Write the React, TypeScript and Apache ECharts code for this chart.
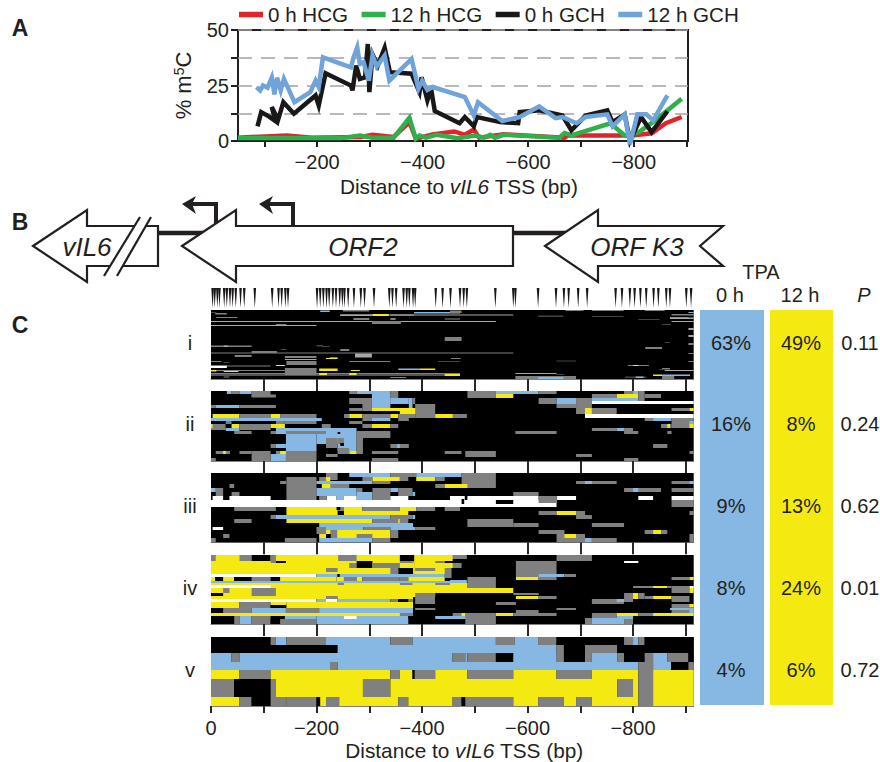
import React, { useEffect, useRef } from "react";
import * as echarts from "echarts";

const FONT = "Liberation Sans";
const INK = "#231f20";

const legendNames = ["0 h HCG", "12 h HCG", "0 h GCH", "12 h GCH"];
const legendColors = ["#e2232a", "#2fb04a", "#1a1718", "#6fa3d9"];

const hcg0 = [[-50,1.5],[-143,2.5],[-190,1.5],[-284,1.8],[-305,2.8],[-345,1.8],[-375,8.5],[-387,1],[-419,3],[-460,4.3],[-480,2.8],[-497,5.2],[-507,1.5],[-554,3],[-669,1.5],[-675,2.5],[-696,2.5],[-797,2.5],[-834,3.5],[-861,8],[-891,10.8]];
const hcg12 = [[-50,1.3],[-244,1.3],[-281,2.5],[-305,1.5],[-345,1.5],[-375,10.5],[-387,1],[-394,2.5],[-406,1.5],[-426,2.8],[-466,1.3],[-500,2.5],[-517,1.5],[-528,2.8],[-537,1.5],[-554,2.8],[-659,1.5],[-669,3.6],[-682,2.5],[-756,8],[-783,2.5],[-810,4],[-841,9.3],[-891,19]];
const gch0 = [[-87,6.6],[-94,13],[-109,11],[-121,9],[-114,15.3],[-126,9.6],[-136,17.5],[-156,12.3],[-197,20.5],[-203,16],[-216,30.5],[-264,25],[-267,22.8],[-274,34],[-281,28],[-291,28.7],[-296,43.7],[-299,22],[-305,39],[-315,34],[-328,42],[-338,31],[-379,30.3],[-394,22],[-398,28.7],[-409,18.3],[-416,23.5],[-423,13.5],[-470,8],[-480,10.8],[-497,6.6],[-503,10.8],[-547,8.5],[-581,8],[-584,13],[-621,13.8],[-665,11.5],[-682,4.8],[-709,11.5],[-750,13.8],[-760,8.5],[-783,12],[-793,0],[-814,10.8],[-834,4],[-864,13.4]];
const gch12 = [[-85,24.3],[-92,22.8],[-97.5,25],[-106,24],[-114,28.5],[-119,21],[-124,28.5],[-131,22.8],[-137,28],[-157,17.5],[-187,22],[-197,27.2],[-203,24.3],[-211,37.7],[-264,33.2],[-269,37.7],[-276,42.2],[-281,34.7],[-288,35.5],[-298,27.2],[-305,38.5],[-313,33.5],[-328,38.5],[-337,27.2],[-379,37],[-392,23.5],[-399,27.2],[-409,23],[-419,24.3],[-480,19.8],[-497,11.5],[-505,17.5],[-551,9],[-584,10.8],[-621,15.6],[-652,10.3],[-665,10.8],[-692,8],[-709,10.8],[-750,12],[-760,6.6],[-783,12],[-793,-1.5],[-807,12],[-824,12],[-837,9.3],[-864,20.5]];

// colour codes for the methylation cells
const g = 0, b = 1, y = 2, w = 3, k = 4, l = 5, d = 6;
const cellColors = ["#808080", "#86b8e3", "#f4ea12", "#ffffff", "#000000", "#a8a8a8", "#444444"];

// [from bp, to bp, first row, last row, colour code]
const panelI = [
  [0,540,11,12,l],[245,573,4.5,5.5,l],[0,200,15,16,l],[0,573,42.5,43.5,g],[0,472,63,64,g],[0,472,64.5,65.5,l],
  [0,10,2,3,d],[8,30,3,4.5,g],[10,50,7,8,g],[207,225,0.5,2,b],[250,300,0,1.5,g],[245,305,4.5,6,l],[306,337,4,6,y],[340,385,4,6,g],[385,472,2,3.5,b],[453,475,0.5,3,g],
  [270,300,8,10,g],[340,350,8,10,g],[305,360,11,14,g],[443,472,8,10,d],[123,143,14,15,g],[443,475,27,31,g],
  [0,77,35.5,37,g],[24,32,35.5,37,l],[200,212,35,36.5,d],[210,225,36,37,d],[132,143,39,40,d],[245,262,39,41,g],[77,125,41,43,g],
  [273,305,43.5,47.5,l],[45,77,45,47,g],[140,200,46,48,g],[140,200,49,50,l],[218,240,48,49,y],[225,240,47,48,g],
  [0,20,51,52,g],[24,35,52,53,d],[143,200,51,55,g],[262,340,51,52,g],[430,472,51,52,d],[455,473,48,49,g],
  [30,113,55.5,56.5,g],[123,140,55,56,y],[0,30,55.5,58,w],[0,140,60,61,g],[24,52,61,62,y],[0,10,60,61.5,y],[140,200,58,65,g],
  [205,240,58.5,61,y],[265,282,60,61,y],[355,395,58.5,60,b],[395,425,58.5,60,y],[205,220,63,65,y],[262,276,63,65,y],
  [24,35,66,68,d],[340,370,67,68,g],[443,472,64,66,y],
  [620,668,5.5,7,d],[672,706,0,1,g],[722,782,0,1,g],[722,782,6,7,d],[822,860,0,1,g],[810,850,9,10,d],[855,872,14,15,d],
  [873,915,4,5.5,g],[870,905,7,8,g],[870,915,7.5,9,l],[873,915,11,12,l],[905,915,18,20,l],[905,915,25,27,l],[905,915,33,35,g],[905,915,43,44,g],[860,870,32,33,d],[905,915,51,52,g],
  [823,855,37,39,g],[655,692,50.5,51.5,d],[790,830,55,56,g],[800,810,55,56,y],[850,870,59,60,d],[855,870,58,59,g],
  [577,655,63,64,l],[655,670,64,65,d],[577,692,66,69,g],[620,668,67,69,b],[785,825,66.5,68,d],[805,820,66.5,68,b],
  [838,855,64.5,66,y],[855,908,64.5,66,b],[860,915,60,61,l],[855,878,66,69,g],[905,915,2,3,b],
];

const panelII = [
  [30,39,0,3,b],[39,54,0,3,g],[54,77,0,3,b],[77,113,0,6,g],[77,123,3.5,6.5,g],[0,9,14,17,g],[9,54,14,17,b],[54,123,14,17,g],
  [3,54,23,27,y],[54,113,23,27,g],[113,131,23,27,y],[131,200,23,27,g],[0,210,27,30,b],[140,200,30,33,g],[123,140,30,33,g],
  [0,28,33,39,g],[28,36,33,37,k],[28,39,30,33,g],[0,3,33,37,y],[39,54,33,37,y],[54,113,33,39,g],[113,140,33,37,y],[28,54,37,40,b],[44,77,40,43,g],[113,123,40,43,g],
  [123,276,37,43,b],[210,227,33,37,g],[142,218,40,43,g],[142,200,43,60,b],[200,276,43,53,b],[240,276,53,60,b],
  [218,240,47,57,g],[240,252,47,53,g],[240,245,41,43,k],[245,252,52,55,k],[276,288,40,63,g],[276,340,40,47,g],[123,142,53,57,b],[113,123,53,57,g],
  [142,200,60,70,g],[123,142,60,66,g],[131,142,60,63,y],[113,142,63,70,b],[77,113,60,70,g],[54,77,60,63,g],[9,36,60,63,g],[23,28,60,63,y],[0,9,67,70,g],[218,240,63,66,g],
  [262,276,60,63,y],[240,262,57,63,g],
  [262,276,0,3,g],[276,340,0,3,b],[340,355,0,13,g],[262,305,7,13,g],[305,340,3,17,b],[287,305,13,20,g],[262,287,17,20,g],[340,375,7,13,b],[375,382,7,17,b],[382,387,7,13,g],
  [305,389,17,20,y],[358,389,20,23,y],[387,425,13,27,g],[425,458,23,27,y],[458,485,23,27,g],[453,458,23,27,y],[252,262,23,27,g],[262,287,23,27,y],[287,340,23,27,g],[340,355,23,27,y],[355,387,23,27,g],
  [305,340,27,30,b],[287,305,27,30,g],[355,375,27,30,g],[262,287,30,33,g],[305,340,33,37,y],[287,305,33,37,g],[340,355,33,37,g],
  [340,375,53,57,g],[353,358,53,57,b],[305,355,60,63,g],[305,355,67,70,g],[443,472,60,63,g],
  [486,540,0,7,g],[540,573,3,7,y],[540,621,0,3,b],[621,655,0,3,g],[621,655,7,13,g],[655,692,7,13,b],[655,692,13,17,g],[692,722,7,23,g],[709,722,17,23,y],[722,769,17,23,g],[722,769,3,7,g],
  [722,810,7,10,b],[769,810,3,7,y],[783,800,0,3,g],[800,810,0,3,b],[810,822,0,10,g],[822,853,3,7,g],[722,915,10,13,w],[873,907,17,20,g],[907,915,17,20,y],[709,915,23,27,w],
  [822,838,27,30,g],[838,873,27,30,b],[873,915,27,37,g],[907,915,30,33,b],[907,915,33,37,y],[853,873,33,37,g],[865,870,33,37,y],
  [722,769,37,40,g],[769,783,37,40,b],[783,800,37,40,g],[783,810,40,43,g],[865,873,40,43,g],[577,655,40,43,g],[838,865,53,57,g],
  [482,540,60,66,g],[453,475,60,63,g],[692,722,63,66,g],[783,810,67,70,g],[907,915,60,63,g],
];

const panelIII = [
  [218,240,0,7,g],[262,340,0,4,b],[340,389,0,4,g],[389,475,0,4,b],[475,540,0,15,g],[143,200,4,27,g],[131,143,8,11,g],[35,44,11,15,g],[9,23,15,23,g],[0,9,15,19,b],[39,54,19,23,g],
  [3,23,23,27,w],[35,113,23,27,w],[205,218,4,8,g],[218,226,4,8,y],[200,306,8,11,b],[287,306,4,8,g],[306,358,4,8,y],[358,374,4,8,g],[389,425,4,8,y],[425,443,4,8,g],[306,340,8,11,g],
  [210,227,11,15,y],[227,262,11,15,g],[425,443,11,15,g],[443,486,11,15,y],[200,276,15,23,b],[276,287,15,19,g],[276,306,19,27,b],[306,340,15,27,g],[340,355,15,19,b],[355,382,15,23,g],[382,387,19,23,b],
  [205,218,23,27,g],[219,238,23,27,w],[238,252,23,27,b],[252,276,23,27,w],[340,374,23,27,w],[459,476,23,27,w],[486,621,23,27,w],[453,481,23,27,w],[655,692,23,27,w],[810,838,23,27,w],[873,915,23,27,w],
  [0,655,27,34,w],[540,573,27,31,k],[475,480,26,31,k],[573,621,19,23,g],[621,655,23,30,g],[873,915,27,34,g],[873,915,15,19,g],[692,769,8,11,g],[709,722,8,11,b],[783,853,15,19,g],[800,810,15,19,b],[873,915,8,11,g],[907,915,8,11,b],
  [44,123,34,38,g],[143,240,34,42,y],[240,252,34,38,g],[252,287,34,38,y],[287,358,34,38,g],[358,389,34,38,y],[389,425,34,38,g],[443,472,34,38,g],[252,374,38,42,y],[238,245,34,37,k],
  [113,123,42,46,g],[123,340,42,46,b],[340,382,42,46,g],[382,387,42,46,b],[143,306,46,50,y],[44,77,46,50,g],[306,358,46,50,g],[355,358,46,50,y],[358,374,46,50,g],
  [205,383,50,54,b],[218,289,54,57,b],[289,340,54,57,g],[340,387,54,57,b],[387,425,54,57,g],[3,23,54,57,w],[200,218,54,57,g],
  [200,218,57,61,g],[218,227,57,61,y],[227,239,57,65,g],[239,340,57,65,y],[276,306,61,65,g],[205,218,61,65,y],[340,355,57,65,g],[23,35,61,65,g],
  [0,9,65,69.3,g],[140,200,65,69.3,g],[205,306,65,69.3,b],[306,340,65,69.3,g],
  [621,655,38,42,g],[655,692,38,42,y],[692,709,38,42,g],[692,722,42,46,g],[907,915,38,42,g],[486,573,46,54,g],[573,621,50,54,g],[722,783,50,54,g],
  [621,670,57,61,g],[655,709,61,69.3,g],[670,692,61,65,y],[709,722,65,69.3,b],[722,769,65,69.3,g],[822,838,57,61,g],[838,853,57,61,y],[853,865,57,61,g],[907,915,61,69.3,g],
];

const panelIV = [
  [0,385,0,19,y],[385,458,0,19,y],[0,9,0,6,g],[54,77,0,6,g],[77,113,0,6,k],[113,123,0,8,g],[123,142,6,8,k],[241,276,0,6,g],[358,385,0,6,k],[358,384,6,8,g],[456,485,0,4,g],[458,475,8,13,g],[453,458,13,22,g],
  [262,276,8,13,g],[276,306,6,13,k],[306,358,8,13,g],[340,355,13,19,g],[355,383,13,19,k],[425,443,6,8,g],[443,472,6,8,k],[387,425,13,16,g],[443,456,13,23,g],[456,472,13,22,k],[218,240,13,17,g],
  [0,200,19,22,w],[200,240,19,22,b],[240,244,19,22,k],[244,443,19,22,b],
  [0,8,22,26,y],[8,23,22,27,k],[23,44,22,26,y],[44,77,22,26,k],[77,113,22,27,g],[131,238,22,26,y],[238,252,22,26,y],[252,276,22,26,g],[276,287,22,26,y],[287,358,22,26,g],[358,374,22,26,g],[374,443,22,26,y],[0,472,26,28,b],
  [0,472,28,42,y],[0,113,30,33,w],[77,123,33,41,g],[23,35,33,38,g],[0,23,38,41,k],[240,252,28,30,g],[358,382,28,30,g],[425,456,28,30,g],
  [218,240,41,44,g],[0,200,44,47,w],[200,218,44,47,b],[218,240,44,47,w],[240,340,44,47,b],[340,355,44,47,g],[355,374,44,47,k],[374,383,44,47,g],[0,218,42,44,y],[240,383,42,44,y],
  [387,425,38,49,g],[425,472,38,53,k],[0,54,47,53,y],[54,113,47,53,g],[113,143,47,50,y],[113,143,50,53,k],[143,383,47,53,y],
  [0,23,53,58,k],[23,77,53,58,g],[77,142,53,58,b],[142,205,53,58,g],[205,383,53,58,b],[387,425,53,55,g],[0,383,58,61,y],[0,44,61,69,k],[44,54,61,69,g],[54,77,61,69,b],[77,113,61,69,g],[113,131,64,69,k],[131,200,64,69,g],[140,200,61,64,b],[200,374,61,69,b],[252,276,61,64,w],[374,383,61,64,k],[358,383,58,61,g],[425,472,61,64,b],
  [453,458,0,4,y],[453,458,8,13,y],[578,655,6,22,g],[621,670,19,22,b],[670,692,19,22,g],[655,722,0,6,g],[783,810,6,8,w],[453,485,25,28,b],[486,540,22,33,g],[578,621,22,25,y],[621,655,22,25,g],
  [453,486,28,33,y],[453,573,33,38,y],[573,621,38,40,g],[578,621,41,44,y],[621,655,41,44,g],[540,578,47,50,g],[655,692,53,55,g],[578,621,55,58,g],[540,573,58,61,y],[573,655,58,61,g],[458,485,58,61,g],[475,482,58,61,y],[453,485,61,64,b],[482,540,58,69,g],
  [709,722,63,69,g],[722,783,63,69,b],[783,800,63,69,g],[722,769,58,63,g],[769,810,58,61,y],[810,838,58,61,g],[838,915,58,61,y],[769,800,61,64,b],
  [800,838,31,33,g],[838,865,31,33,y],[865,873,31,33,g],[873,907,31,38,g],[907,915,33,38,y],[907,915,31,33,w],[873,907,22,25,g],[907,915,22,25,y],
  [783,800,38,47,g],[800,810,38,44,y],[810,822,38,44,g],[822,838,41,44,g],[838,873,41,44,y],[873,907,41,47,g],[722,783,44,49,g],[769,783,44,47,b],[873,915,49,58,g],[870,907,53,55,b],[907,915,49,52,y],[907,915,53,58,b],
];

const panelV = [
  [0,113,0,8,k],[113,123,0,8,g],[123,143,0,8,b],[143,218,0,8,g],[218,340,0,8,b],[340,382,0,8,g],[382,540,0,8,b],[540,576,0,8,g],[576,620,0,8,b],[620,655,0,8,g],[655,783,0,8,k],[783,800,0,8,g],[800,810,0,8,b],[810,822,0,8,g],[822,915,0,8,k],
  [0,240,8,16,k],[240,655,8,16,b],[655,669,8,25,g],[669,709,8,25,k],[709,770,8,16,g],[770,915,8,16,k],
  [0,39,16,25,b],[39,54,16,25,g],[54,458,16,25,b],[458,482,16,25,g],[482,486,16,25,b],[486,540,16,25,g],[540,573,16,25,k],[573,655,16,25,b],[709,722,16,25,g],[722,770,16,25,b],[770,783,16,25,g],[783,822,16,25,k],[822,838,16,25,g],[838,865,16,25,b],[865,905,16,25,g],[905,915,16,25,k],
  [0,227,25,33,b],[227,240,25,33,g],[240,810,25,33,b],[838,872,25,33,b],[872,905,25,33,k],[905,915,25,33,g],
  [0,54,33,42,y],[54,113,33,42,g],[113,340,33,42,y],[340,358,33,42,g],[358,382,33,42,y],[382,386,33,42,k],[386,425,33,42,g],[425,486,33,42,y],[486,573,33,42,g],[573,655,33,42,y],[655,722,33,42,g],[722,810,33,42,y],[838,915,33,42,y],
  [0,44,42,60,g],[44,113,42,60,k],[113,123,42,60,g],[123,288,42,60,y],[288,340,42,60,g],[340,770,42,60,y],[770,800,42,60,g],[800,810,42,60,y],[838,915,42,60,y],
  [0,54,60,69,y],[54,77,60,69,g],[77,113,60,69,k],[113,142,60,69,g],[142,143,60,69,y],[143,200,60,69,g],[200,207,60,69,k],[207,218,60,69,y],[218,243,60,69,g],[243,355,60,69,y],[355,374,60,69,g],[374,458,60,69,y],[458,475,60,69,g],[475,482,60,69,k],[482,573,60,69,g],[573,620,60,69,y],[620,669,60,69,g],[669,692,60,69,y],[692,722,60,69,g],[722,810,60,69,y],[838,915,60,69,y],
  [810,838,25,69,g],
];

const panels = [panelI, panelII, panelIII, panelIV, panelV];
const clusterNames = ["i", "ii", "iii", "iv", "v"];
const tpa0h = ["63%", "16%", "9%", "8%", "4%"];
const tpa12h = ["49%", "8%", "13%", "24%", "6%"];
const pValues = ["0.11", "0.24", "0.62", "0.01", "0.72"];

const sites = [3,7,12,16,25,30,36,41,47,56,63,83,116,128,134,141,146,201,207,213,219,224,231,237,244,249,253,260,271,284,291,309,338,344,351,365,371,376,383,387,426,439,454,472,479,485,539,573,577,620,654,669,678,696,713,767,779,794,803,814,825,839,848,863,870,901,910];

const panelTops = [310, 391, 473, 555, 637];
const panelHeights = [69, 70, 69.3, 69, 69];
const innerTicks = [100, 200, 300, 400, 500, 600, 700, 800, 900];
const outerTicks = [0, ...innerTicks];
const outerLabels = [0, 200, 400, 600, 800];
const plotTicks = [-100, -200, -300, -400, -500, -600, -700, -800, -900];
const plotLabels = [-200, -400, -600, -800];

const genes = [
  { name: "vIL6", cx: 87, points: [[33,246],[87,210],[87,226],[158,226],[158,266],[87,266],[87,282]] },
  { name: "ORF2", cx: 363, points: [[182,246],[236,210],[236,226],[513,226],[513,266],[236,266],[236,282]] },
  { name: "ORF K3", cx: 637, points: [[545,246],[598,210],[598,226],[723,226],[700,246],[723,266],[598,266],[598,282]] },
];

const minus = (v: number) => (v === 0 ? "0" : "\u2212" + Math.abs(v));
const distanceName = "{a|Distance to }{i|vIL6}{a| TSS (bp)}";
const distanceRich = {
  a: { fontSize: 20.8, color: INK, fontFamily: FONT },
  i: { fontSize: 20.8, color: INK, fontFamily: FONT, fontStyle: "italic" },
};

function cellItem(params: any, api: any) {
  const p0 = api.coord([api.value(0), api.value(2)]);
  const p1 = api.coord([api.value(1), api.value(3)]);
  return {
    type: "rect",
    shape: { x: p0[0], y: p0[1], width: p1[0] - p0[0], height: p1[1] - p0[1] },
    style: { fill: cellColors[api.value(4)] },
  };
}

function siteItem(params: any, api: any) {
  const a = api.coord([api.value(0), 0]);
  const c = api.coord([api.value(0), 1]);
  return {
    type: "polygon",
    shape: { points: [[a[0] - 1.3, a[1]], [a[0] + 1.3, a[1]], [c[0], c[1]]] },
    style: { fill: "#1a1718" },
  };
}

function txt(x: number, yy: number, text: string, size = 20, extra: any = {}) {
  return {
    type: "text", x, y: yy, silent: true, z: 20,
    style: { text, fontSize: size, fontFamily: FONT, fill: INK, align: "center", verticalAlign: "middle", ...extra },
  };
}

function buildOption() {
  const PX0 = 211, PW = 482.7;
  const grids: any[] = [{ left: 238, top: 30, width: 450, height: 111, show: true, borderColor: INK, borderWidth: 2 }];
  const xAxes: any[] = [{
    type: "value", gridIndex: 0, min: -903, max: -50, inverse: true, position: "bottom",
    splitLine: { show: false }, axisLine: { show: true, onZero: false, lineStyle: { color: INK, width: 2 } },
    axisTick: { show: true, inside: false, length: 6, lineStyle: { color: INK, width: 2 }, customValues: plotTicks },
    axisLabel: { show: true, fontSize: 20, color: INK, fontFamily: FONT, margin: 11, customValues: plotLabels, formatter: (v: number) => minus(v) },
    name: distanceName, nameLocation: "middle", nameGap: 35, nameTextStyle: { rich: distanceRich, padding: [0, 8, 0, 0] },
  }];
  const yAxes: any[] = [{
    type: "value", gridIndex: 0, min: 0, max: 50, interval: 12.5,
    axisLine: { show: false },
    axisTick: { show: true, length: 7, lineStyle: { color: INK, width: 2 } },
    splitLine: { show: true, lineStyle: { color: "#a3a3a3", type: [14, 9], width: 1.5 } },
    axisLabel: { fontSize: 20, color: INK, fontFamily: FONT, margin: 9, formatter: (v: number) => (v % 25 === 0 ? String(v) : "") },
    name: "{a|% m}{s|5}{a|C}", nameLocation: "middle", nameGap: 44,
    nameTextStyle: { rich: { a: { fontSize: 22, color: INK, fontFamily: FONT }, s: { fontSize: 14, color: INK, fontFamily: FONT, verticalAlign: "top" } } },
  }];
  const lines = [hcg0, hcg12, gch0, gch12].map((data, i) => ({
    type: "line", name: legendNames[i], xAxisIndex: 0, yAxisIndex: 0, data, symbol: "none", clip: false,
    lineStyle: { color: legendColors[i], width: 4.5, join: "miter" }, itemStyle: { color: legendColors[i] }, silent: true, z: 3 + i,
  }));
  const customs: any[] = panels.map((data, i) => {
    const last = i === panels.length - 1;
    grids.push({ left: PX0, top: panelTops[i], width: PW, height: panelHeights[i], show: true, backgroundColor: "#000000", borderWidth: 0 });
    xAxes.push({
      type: "value", gridIndex: i + 1, min: 0, max: 915, position: "bottom",
      splitLine: { show: false }, axisLine: { show: true, onZero: false, lineStyle: { color: "#000000", width: 0.5 } },
      axisTick: { show: true, inside: false, length: last ? 7 : 12, lineStyle: { color: "#2b2728", width: 2 }, customValues: last ? outerTicks : innerTicks },
      axisLabel: { show: last, fontSize: 20, color: INK, fontFamily: FONT, margin: 12, customValues: outerLabels, formatter: (v: number) => minus(v) },
      ...(last ? { name: distanceName, nameLocation: "middle", nameGap: 34, nameTextStyle: { rich: distanceRich, padding: [0, 0, 0, 24] } } : {}),
    });
    yAxes.push({ type: "value", gridIndex: i + 1, min: 0, max: panelHeights[i], inverse: true, show: false });
    return {
      type: "custom", xAxisIndex: i + 1, yAxisIndex: i + 1, data, renderItem: cellItem, silent: true,
      encode: { x: [0, 1], y: [2, 3] },
    };
  });
  grids.push({ left: PX0, top: 288, width: PW, height: 20 });
  xAxes.push({ type: "value", gridIndex: 6, min: 0, max: 915, show: false });
  yAxes.push({ type: "value", gridIndex: 6, min: 0, max: 1, inverse: true, show: false });
  customs.push({ type: "custom", xAxisIndex: 6, yAxisIndex: 6, data: sites.map((s) => [s]), renderItem: siteItem, silent: true, encode: { x: 0 } });

  const stroke = { stroke: INK, lineWidth: 2.2, fill: "#fff" };
  const arrow = (pts: number[][]) => ({
    type: "polyline", z: 9, silent: true,
    shape: { points: pts }, style: { stroke: INK, lineWidth: 4, fill: "none" },
  });
  const head = (tipX: number) => ({
    type: "polygon", z: 12, silent: true,
    shape: { points: [[tipX, 204], [tipX + 14, 196], [tipX + 10, 204], [tipX + 14, 214]] },
    style: { fill: INK },
  });
  const graphic: any[] = [
    txt(20, 28, "A", 23, { fontWeight: "bold" }), txt(20, 222, "B", 23, { fontWeight: "bold" }), txt(20, 325, "C", 23, { fontWeight: "bold" }),
    { type: "line", z: 9, silent: true, shape: { x1: 158, y1: 233, x2: 205, y2: 233 }, style: { stroke: INK, lineWidth: 4.5 } },
    { type: "line", z: 9, silent: true, shape: { x1: 513, y1: 233, x2: 566, y2: 233 }, style: { stroke: INK, lineWidth: 4.5 } },
    arrow([[216, 230], [216, 204], [190, 204]]), head(182),
    arrow([[293, 226], [293, 204], [267, 204]]), head(259),
    ...genes.map((gn) => ({ type: "polygon", z: 10, silent: true, shape: { points: gn.points }, style: stroke })),
    { type: "polygon", z: 11, silent: true, shape: { points: [[151, 217], [140, 217], [104, 276], [117, 276]] }, style: { fill: "#fff" } },
    { type: "line", z: 12, silent: true, shape: { x1: 151, y1: 217, x2: 117, y2: 276 }, style: { stroke: INK, lineWidth: 2.2 } },
    { type: "line", z: 12, silent: true, shape: { x1: 140, y1: 217, x2: 104, y2: 276 }, style: { stroke: INK, lineWidth: 2.2 } },
    ...genes.map((gn) => txt(gn.cx, 247, gn.name, 26, { fontStyle: "italic" })),
    { type: "rect", z: 5, silent: true, shape: { x: 700, y: 310, width: 64, height: 395 }, style: { fill: cellColors[b] } },
    { type: "rect", z: 5, silent: true, shape: { x: 770, y: 310, width: 63, height: 395 }, style: { fill: cellColors[y] } },
    txt(761, 272, "TPA"), txt(730, 295, "0 h"), txt(800, 295, "12 h"), txt(864, 295, "P", 20, { fontStyle: "italic" }),
  ];
  panelTops.forEach((top, i) => {
    const cy = top + 33;
    graphic.push(txt(190, cy, clusterNames[i]), txt(731, cy, tpa0h[i]), txt(801, cy, tpa12h[i]), txt(860, cy, pValues[i]));
  });

  return {
    animation: false,
    backgroundColor: "#ffffff",
    textStyle: { fontFamily: FONT },
    legend: {
      left: 234, top: 0, itemWidth: 24, itemHeight: 5.5, itemGap: 13.5, icon: "rect", padding: [4, 5, 5, 5],
      data: legendNames, selectedMode: false, textStyle: { fontSize: 20.6, color: INK, fontFamily: FONT },
    },
    grid: grids, xAxis: xAxes, yAxis: yAxes,
    series: [...customs, ...lines],
    graphic,
  };
}

export default function App() {
  const ref = useRef<HTMLDivElement>(null);
  useEffect(() => {
    if (!ref.current) return;
    const chart = echarts.init(ref.current, undefined, { renderer: "svg" });
    chart.setOption(buildOption());
    return () => chart.dispose();
  }, []);
  return <div ref={ref} style={{ position: "fixed", left: 0, top: 0, width: 880, height: 762 }} />;
}
